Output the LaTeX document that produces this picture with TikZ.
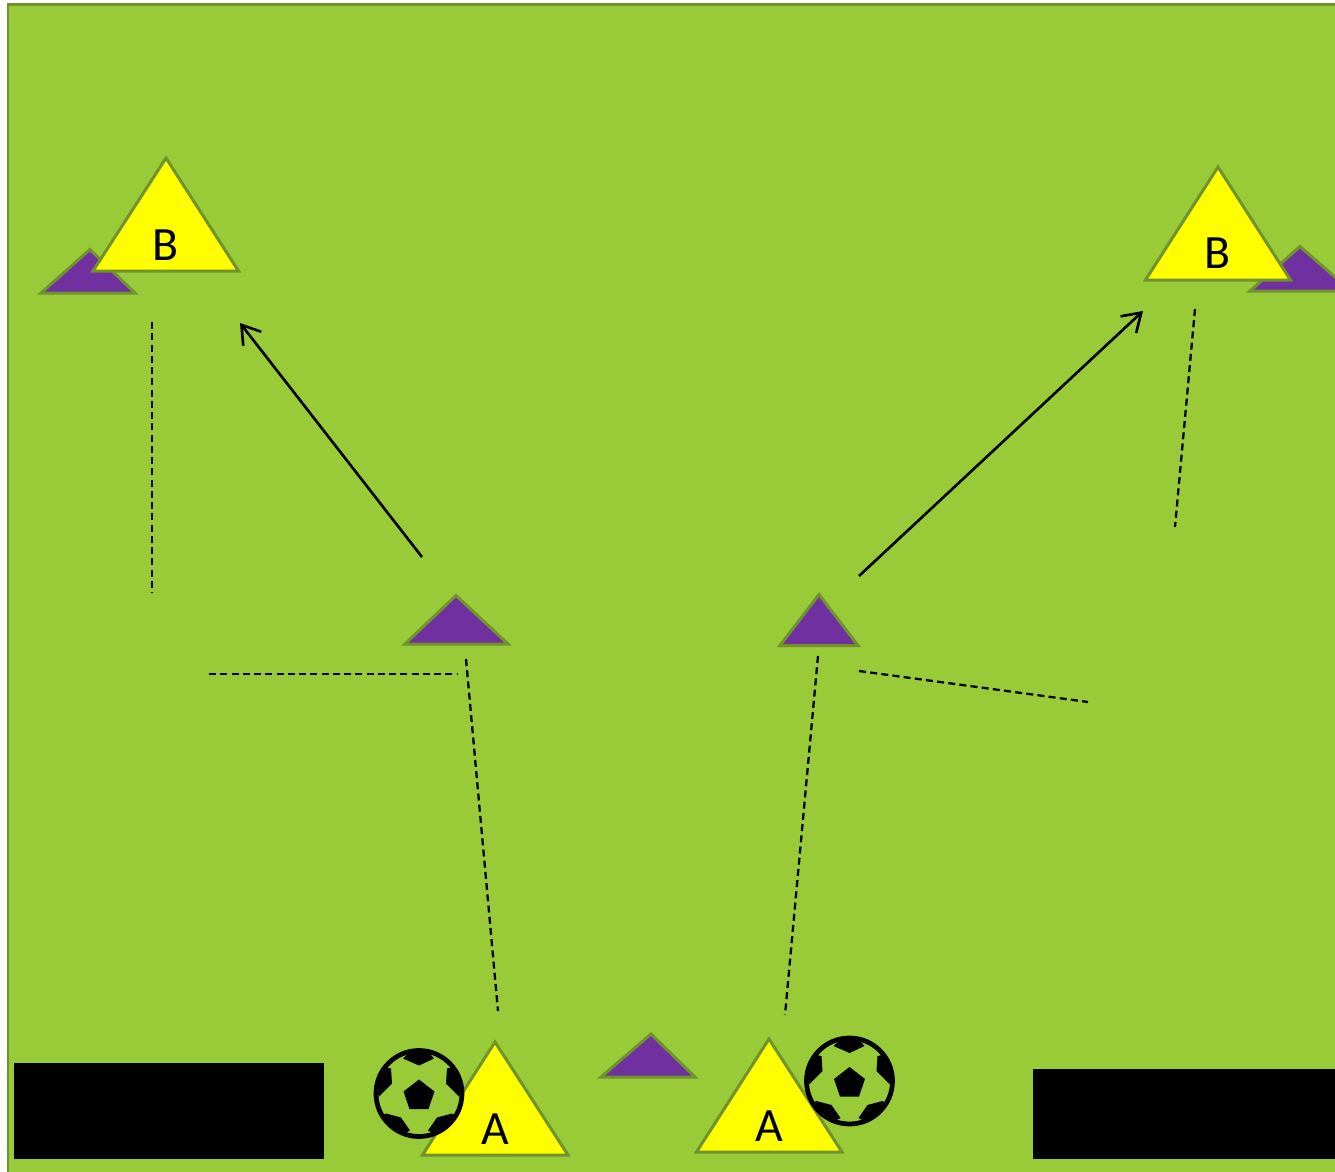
\documentclass[tikz,border=0pt]{standalone}
\usepackage{fontspec}
\setmainfont{Carlito}
\usetikzlibrary{arrows.meta}
\definecolor{fieldgreen}{HTML}{98CB37}
\definecolor{edgegreen}{HTML}{71922E}
\definecolor{conepurple}{HTML}{7030A0}
\definecolor{shirtyellow}{HTML}{FFFF00}
\tikzset{
	cone/.style={draw=edgegreen, line width=.85pt, fill=conepurple},
	player/.style={cone, fill=shirtyellow},
	goal/.style={draw=none, fill=black},
	pass/.style={black, line width=.65pt, dash pattern=on 2pt off 1.2pt},
	run/.style={black, line width=.75pt, -{Straight Barb[length=5pt,width=6.5pt]}},
	tag/.style={inner sep=0pt, font=\fontsize{13.6pt}{14pt}\selectfont},
	ball/.pic={
		\draw[black, fill=fieldgreen, line width=1.35pt] (0,0) circle (43);
		\fill[black] (0,-14) -- (15.5,-2) -- (9.5,15.5) -- (-9.5,15.5) -- (-15.5,-2) -- cycle;
		\fill[black] (-16,-35) -- (0,-28) -- (15,-35) -- (9,-42) -- (-9,-42) -- cycle;
		\foreach \s in {1,-1} {
			\fill[black] (\s*28,-25) -- (\s*27,-10) -- (\s*40,3) -- (\s*43,-5) -- (\s*40,-18) -- (\s*33,-26) -- cycle;
			\fill[black] (\s*9,37) -- (\s*18,24) -- (\s*33,20) -- (\s*37,22) -- (\s*28,33) -- (\s*15,40) -- cycle;
		}
	}
}
\begin{document}
\begin{tikzpicture}[x=.01cm, y=-.01cm]
	\clip (0,0) rectangle (1335,1172);
	\draw[draw=edgegreen, line width=.85pt, fill=fieldgreen] (8,4) rectangle (1380,1200);
	% goals
	\draw[goal] (14,1063) rectangle (323.5,1158.5);
	\draw[goal] (1033,1069) rectangle (1340,1158.5);
	% cones
	\draw[cone] (90,249.5) -- (135,293) -- (41,293) -- cycle;
	\draw[cone] (1300,246.5) -- (1351,291) -- (1250,291) -- cycle;
	\draw[cone] (456,595.5) -- (508,644) -- (405,644) -- cycle;
	\draw[cone] (819,594.5) -- (858,645.5) -- (780,645.5) -- cycle;
	\draw[cone] (651,1034) -- (695,1077) -- (601,1077) -- cycle;
	% players
	\draw[player] (166,158) -- (238.5,271) -- (93,271) -- cycle;
	\draw[player] (1218,167) -- (1290.5,280) -- (1145.5,280) -- cycle;
	\draw[player] (495,1042) -- (568,1155) -- (422.5,1155) -- cycle;
	\draw[player] (769,1039) -- (842,1152) -- (696.5,1152) -- cycle;
	\node[tag] (bl) at (166,245) {B};
	\node[tag] (br) at (1218,253) {B};
	\node[tag] (al) at (495,1129) {A};
	\node[tag] (ar) at (769,1126) {A};
	% balls
	\pic at (419,1093.5) {ball};
	\pic at (849.5,1081) {ball};
	% passes
	\coordinate (p1) at (152,322);
	\coordinate (p2) at (152,593);
	\coordinate (p3) at (209,674);
	\coordinate (p4) at (458,674);
	\coordinate (p5) at (466,659);
	\coordinate (p6) at (498,1011);
	\coordinate (p7) at (818,656);
	\coordinate (p8) at (785,1015);
	\coordinate (p9) at (859,671);
	\coordinate (p10) at (1088,702);
	\coordinate (p11) at (1195,309);
	\coordinate (p12) at (1175,527);
	\foreach \i/\j in {p1/p2,p3/p4,p5/p6,p7/p8,p9/p10,p11/p12} {
		\draw[pass] (\i) -- (\j);
	}
	% runs
	\coordinate (r1) at (422,557);
	\coordinate (r2) at (240,323);
	\coordinate (r3) at (859,576);
	\coordinate (r4) at (1143,311);
	\draw[run] (r1) -- (r2);
	\draw[run] (r3) -- (r4);
\end{tikzpicture}
\end{document}
